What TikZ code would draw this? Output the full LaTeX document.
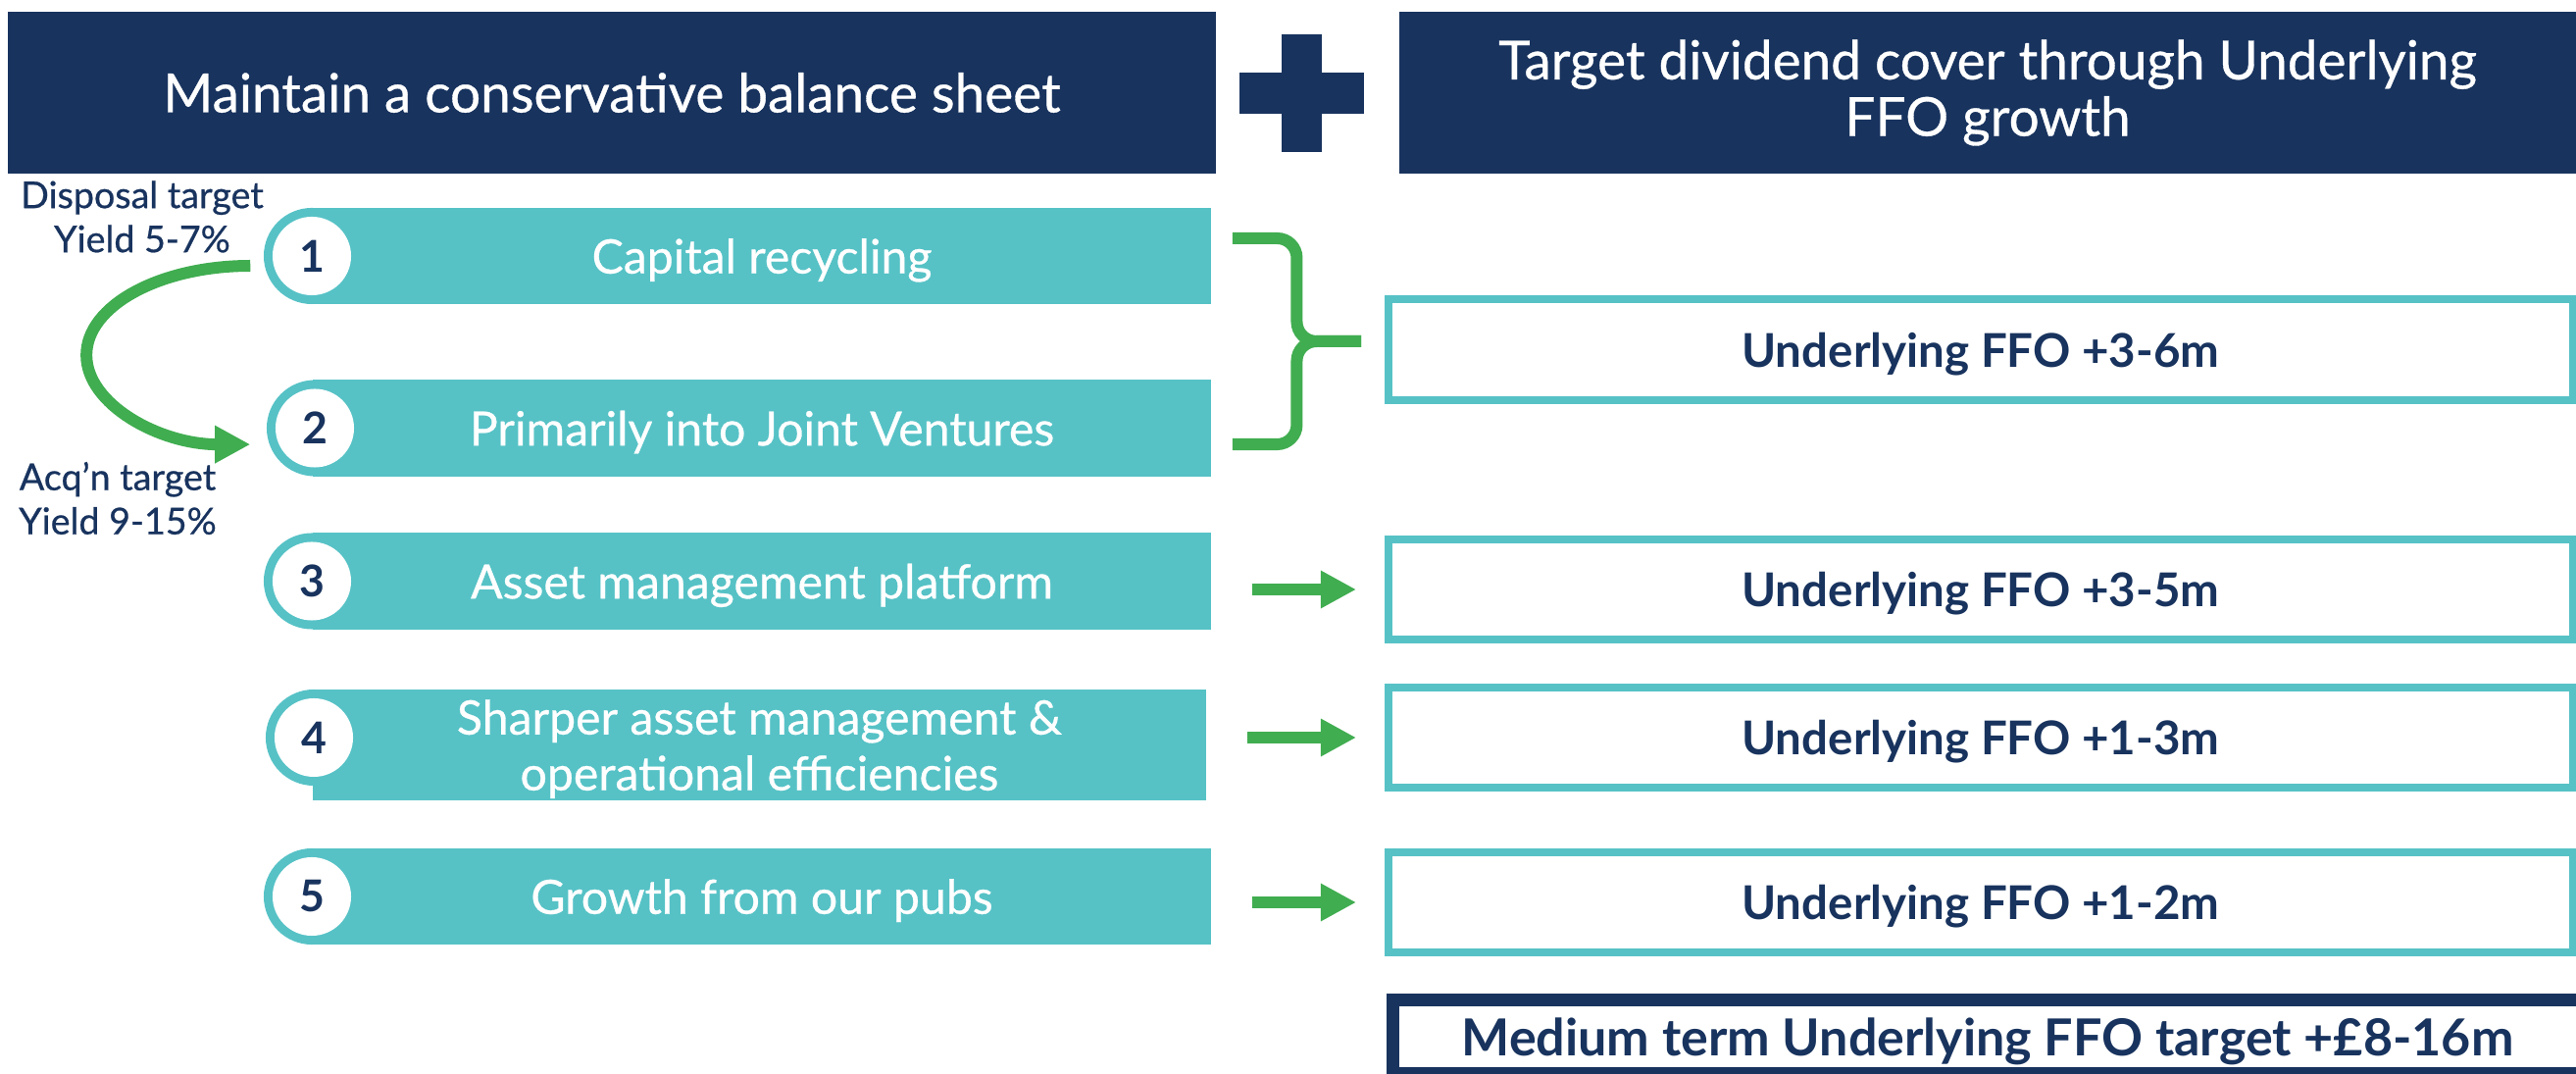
\documentclass[tikz,border=0pt]{standalone}
\usepackage{fontspec}
\setmainfont{Lato}
\newfontfamily\medfont[FakeBold=0.6]{Lato}
\usepackage{tikz}
\usetikzlibrary{arrows.meta}
\usetikzlibrary{calc}

\definecolor{navy}{RGB}{24,51,94}
\definecolor{barteal}{RGB}{86,194,198}
\definecolor{arrowgreen}{RGB}{64,173,80}

\begin{document}
\begin{tikzpicture}[
    x=0.01cm, y=-0.01cm, % one unit per pixel, y running downwards
    header/.style={
        fill=navy, % dark blue banner
        text=white,
        minimum height=1.65cm,
        inner sep=0pt,
        align=center,
        font=\medfont\fontsize{15.6}{16.4}\selectfont
    },
    bar/.style={
        fill=barteal, % teal lever bar
        text=white,
        anchor=west,
        minimum width=9.16cm,
        inner sep=0pt,
        text depth=0pt,
        align=center,
        font=\medfont\fontsize{13.7}{16.2}\selectfont
    },
    numring/.style={circle, fill=barteal, minimum size=0.98cm, inner sep=0pt},
    num/.style={
        circle, fill=white, % white disc with the step number
        minimum size=0.80cm,
        inner sep=0pt,
        text=navy,
        font=\bfseries\fontsize{12.7}{14}\selectfont
    },
    result/.style={
        draw=barteal, line width=0.08cm, % teal outlined box
        fill=white,
        anchor=west,
        minimum width=12.07cm,
        minimum height=1.02cm,
        inner sep=0pt,
        text depth=0pt,
        text=navy,
        font=\bfseries\fontsize{13.5}{15}\selectfont
    },
    total/.style={
        draw=navy, line width=0.13cm, % navy framed total
        fill=white,
        minimum width=12.13cm,
        minimum height=0.75cm,
        inner sep=0pt,
        text depth=0pt,
        text=navy,
        font=\bfseries\fontsize{14.8}{16}\selectfont
    },
    note/.style={text=navy, align=center, inner sep=0pt, font=\medfont\fontsize{10.7}{12.8}\selectfont},
    gain/.style={draw=arrowgreen, line width=0.12cm, -{Triangle[length=0.36cm, width=0.36cm]}},
    bracepen/.style={draw=arrowgreen, line width=0.12cm, rounded corners=0.2cm}
]
\useasboundingbox (0,0) rectangle (2627,1095);
\clip (0,0) rectangle (2627,1095);

% banners
\node[header, minimum width=12.32cm] (hdL) at (624,94.5) {Maintain a conservative balance sheet};
\node[header, minimum width=12.0cm] (hdR) at (2027,94.5) {Target dividend cover through Underlying\\FFO growth};
\fill[navy] (1264,74) rectangle (1391,116);
\fill[navy] (1307,35) rectangle (1348,155);

% levers
\node[bar, minimum height=0.98cm] (bar1) at (318,261) {Capital recycling};
\node[bar, minimum height=0.99cm] (bar2) at (318,436.5) {Primarily into Joint Ventures};
\node[bar, minimum height=0.99cm] (bar3) at (318,592.5) {Asset management platform};
\node[bar, minimum height=1.13cm, minimum width=9.11cm] (bar4) at (318,759.5) {Sharper asset management \&\\operational efficiencies};
\node[bar, minimum height=0.98cm] (bar5) at (318,914) {Growth from our pubs};

\node[numring] (ring1) at (bar1.west) {};
\node[num] (n1) at (ring1) {1};
\node[numring] (ring2) at ([xshift=0.03cm]bar2.west) {};
\node[num] (n2) at (ring2) {2};
\node[numring] (ring3) at (bar3.west) {};
\node[num] (n3) at (ring3) {3};
\node[numring] (ring4) at ([xshift=0.02cm, yshift=0.075cm]bar4.west) {};
\node[num] (n4) at (ring4) {4};
\node[numring] (ring5) at (bar5.west) {};
\node[num] (n5) at (ring5) {5};

% yields
\node[note] (disp) at (145,221) {Disposal target\\Yield 5-7\%};
\node[note] (acq) at (120,508) {Acq’n target\\Yield 9-15\%};
\draw[gain] ([xshift=-0.13cm, yshift=-0.10cm]ring1.west) arc[start angle=90, end angle=270, x radius=1.67cm, y radius=0.91cm];

% outcomes
\node[result] (boxA) at (1412,356.5) {Underlying FFO +3-6m};
\node[result] (boxB) at (1412,601) {Underlying FFO +3-5m};
\node[result] (boxC) at (1412,752) {Underlying FFO +1-3m};
\node[result] (boxD) at (1412,920) {Underlying FFO +1-2m};
\node[total] (goal) at (2027,1057) {Medium term Underlying FFO target +£8-16m};

% brace for levers 1 and 2
\coordinate (bt) at ([xshift=0.21cm, yshift=0.18cm]bar1.east);
\coordinate (bb) at ([xshift=0.21cm, yshift=-0.165cm]bar2.east);
\coordinate (tip) at ([xshift=-0.24cm, yshift=0.085cm]boxA.west);
\coordinate (bm) at ($(bt)!0.5!(tip)$);
\draw[bracepen] (bt) -- (bt -| bm) -- (tip -| bm) -- (tip);
\draw[bracepen] (bb) -- (bb -| bm) -- (tip -| bm) -- (tip);

% arrows for levers 3 to 5
\draw[gain, shorten <=0.41cm, shorten >=0.29cm] (bar3.east |- boxB.west) -- (boxB.west);
\draw[gain, shorten <=0.41cm, shorten >=0.29cm] (bar4.east |- boxC.west) -- (boxC.west);
\draw[gain, shorten <=0.41cm, shorten >=0.29cm] (bar5.east |- boxD.west) -- (boxD.west);
\end{tikzpicture}
\end{document}
